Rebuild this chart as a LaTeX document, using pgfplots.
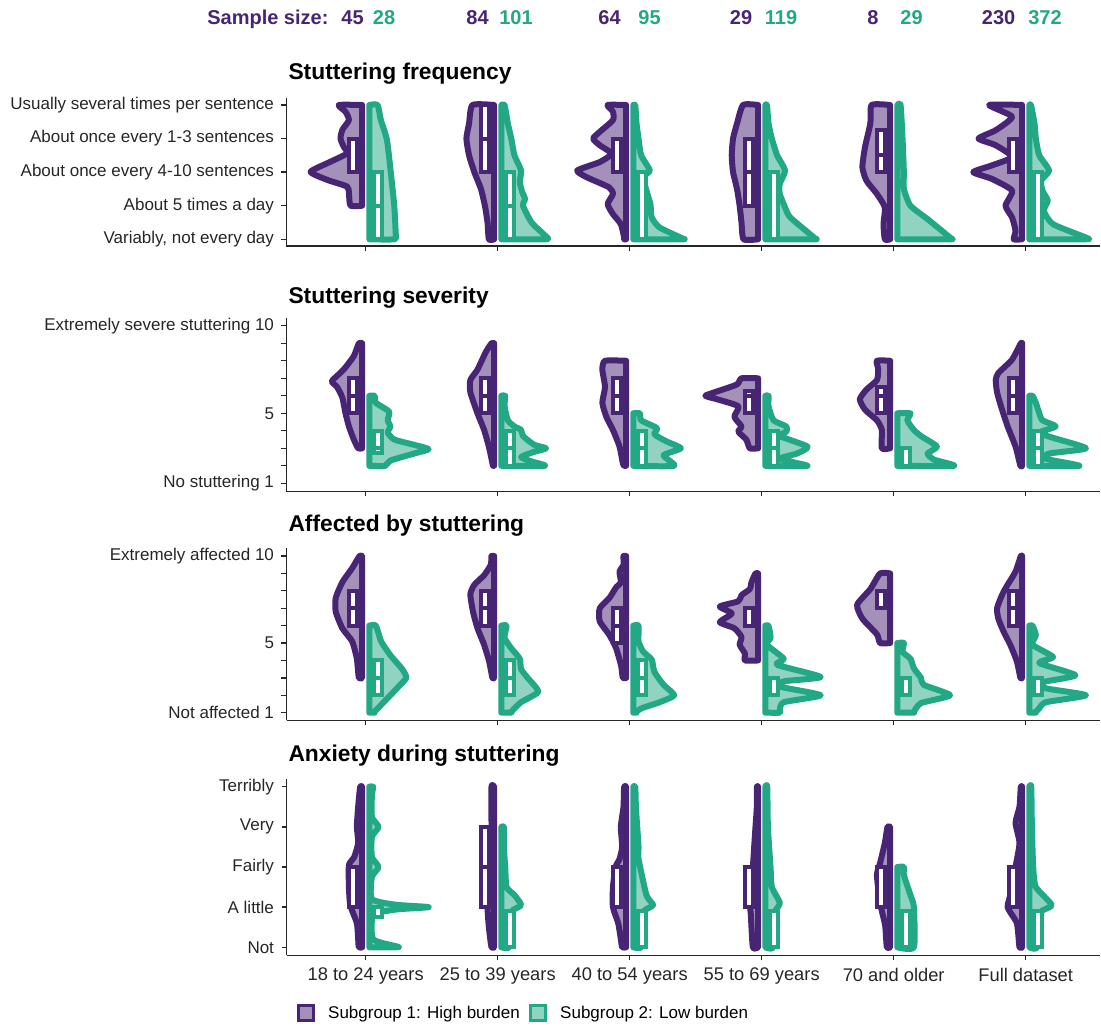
\documentclass[border=0pt]{standalone}
\usepackage{fontspec}
\setmainfont{Liberation Sans}
\usepackage{pgfplots}
\pgfplotsset{compat=1.18}
\definecolor{cP}{RGB}{72,36,117}
\definecolor{cG}{RGB}{34,168,132}
\newcommand\tfont{\fontsize{17}{20}\selectfont}
\newcommand\xfont{\fontsize{18.3}{21}\selectfont}
\newcommand\hfont{\fontsize{22.8}{27}\selectfont\bfseries}
\newcommand\sfont{\fontsize{20}{24}\selectfont\bfseries}
\pgfplotsset{
  panel/.style={scale only axis, width=813.5pt, xmin=-0.6, xmax=5.563,
    axis lines*=left, clip=false, xtick={0,...,5}, xticklabels={,,,,,},
    tick align=outside, major tick length=5pt,
    tick style={line width=1.3pt, color=black!85},
    axis line style={line width=1.3pt, color=black!85},
    ticklabel style={font=\tfont, text=black!85},
    yticklabel style={xshift=-4pt},
    xticklabel style={yshift=-4pt, font=\xfont}},
  vp/.style={forget plot, draw=cP, fill=cP!50, line width=6pt, line join=round, line cap=round, mark=none, smooth, tension=0.35},
  vg/.style={forget plot, draw=cG, fill=cG!50, line width=6pt, line join=round, line cap=round, mark=none, smooth, tension=0.35},
  bp/.style={forget plot, draw=cP, fill=white, line width=4pt, mark=none},
  bg/.style={forget plot, draw=cG, fill=white, line width=4pt, mark=none},
}
% half violins: #1 category, #2 rows "w y\\"
\newcommand\VP[2]{\addplot[vp] table[row sep=\\, x expr={#1-0.027-\thisrow{w}}, y=y]{w y\\#2} -- cycle;}
\newcommand\VG[2]{\addplot[vg] table[row sep=\\, x expr={#1+0.027+\thisrow{w}}, y=y]{w y\\#2} -- cycle;}
% boxes: #1 category, #2 q1, #3 median, #4 q3
\newcommand\BP[4]{\addplot[bp] table[row sep=\\, x expr={#1-0.095+\thisrow{d}}, y=y]{d y\\-0.032 #2\\0.032 #2\\0.032 #4\\-0.032 #4\\} -- cycle;
\addplot[bp] table[row sep=\\, x expr={#1-0.095+\thisrow{d}}, y=y]{d y\\-0.032 #3\\0.032 #3\\};}
\newcommand\BG[4]{\addplot[bg] table[row sep=\\, x expr={#1+0.095+\thisrow{d}}, y=y]{d y\\-0.032 #2\\0.032 #2\\0.032 #4\\-0.032 #4\\} -- cycle;
\addplot[bg] table[row sep=\\, x expr={#1+0.095+\thisrow{d}}, y=y]{d y\\-0.032 #3\\0.032 #3\\};}
\begin{document}
\begin{tikzpicture}
\useasboundingbox (0pt,0pt) rectangle (1101pt,1026pt);
% sample sizes
\node[anchor=base east, font=\sfont, text=cP] at (332pt,1001pt) {Sample size:};
\foreach \x/\n in {352.5/45, 477.5/84, 609.5/64, 741/29, 873/8, 998.6/230}
  \node[anchor=base, font=\sfont, text=cP] at (\x pt,1001pt) {\n};
\foreach \x/\n in {384/28, 516/101, 649.6/95, 781/119, 911.5/29, 1045/372}
  \node[anchor=base, font=\sfont, text=cG] at (\x pt,1001pt) {\n};
% titles
\node[anchor=base west, font=\hfont] at (285pt,946pt) {Stuttering frequency};
\node[anchor=base west, font=\hfont] at (285pt,722pt) {Stuttering severity};
\node[anchor=base west, font=\hfont] at (285pt,494pt) {Affected by stuttering};
\node[anchor=base west, font=\hfont] at (285pt,264pt) {Anxiety during stuttering};

% ---------- Panel 1: frequency ----------
\begin{axis}[panel, at={(286.5pt,780pt)}, anchor=south west, height=147.7pt,
  ymin=0.8, ymax=5.2, ytick={1,...,5},
  yticklabels={{Variably, not every day},{About 5 times a day},{About once every 4-10 sentences},{About once every 1-3 sentences},{Usually several times per sentence}}]
\VP{0}{0 5\\0.177 5\\0.126 4.8\\0.1 4.55\\0.15 4.26\\0.164 4.0\\0.14 3.76\\0.114 3.56\\0.24 3.31\\0.39 3.01\\0.265 2.77\\0.114 2.57\\0.1 2.37\\0.088 2\\0 2\\}
\VG{0}{0 5\\0.063 5\\0.088 4.55\\0.134 3.96\\0.164 2.96\\0.19 1.97\\0.2 1.18\\0.194 1\\0 1\\}
\VP{1}{0 5\\0.164 5\\0.19 4.45\\0.21 4.0\\0.19 3.5\\0.15 3.0\\0.1 2.5\\0.07 2.0\\0.05 1.5\\0.04 1\\0 1\\}
\VG{1}{0 5\\0.025 5\\0.05 4.45\\0.076 4.0\\0.1 3.5\\0.15 3.05\\0.14 2.7\\0.16 2.4\\0.18 2.2\\0.165 2.0\\0.23 1.5\\0.34 1.08\\0.34 1\\0 1\\}
\VP{2}{0 5\\0.14 5\\0.1 4.8\\0.1 4.55\\0.2 4.2\\0.25 4.0\\0.2 3.8\\0.11 3.55\\0.2 3.3\\0.37 3.05\\0.3 2.85\\0.13 2.55\\0.1 2.35\\0.14 2.05\\0.1 1.75\\0.04 1.45\\0.015 1.05\\0.015 1\\0 1\\}
\VG{2}{0 5\\0.015 5\\0.025 4.45\\0.04 4.0\\0.06 3.5\\0.125 3.05\\0.076 2.85\\0.1 2.45\\0.13 2.05\\0.14 1.65\\0.2 1.35\\0.37 1.03\\0.37 1\\0 1\\}
\VP{3}{0 5\\0.114 5\\0.16 4.45\\0.19 4.0\\0.2 3.5\\0.19 3.0\\0.16 2.5\\0.14 2.0\\0.126 1.5\\0.11 1\\0 1\\}
\VG{3}{0 5\\0.013 5\\0.025 4.45\\0.05 4.0\\0.09 3.5\\0.15 3.05\\0.11 2.65\\0.11 2.35\\0.15 1.95\\0.19 1.65\\0.37 1.05\\0.37 1\\0 1\\}
\VP{4}{0 5\\0.14 5\\0.15 4.45\\0.19 3.75\\0.21 3.15\\0.18 2.75\\0.1 2.35\\0.04 1.95\\0.05 1.45\\0.04 1\\0 1\\}
\VG{4}{0 5\\0.025 5\\0.04 4.0\\0.05 3.0\\0.05 2.5\\0.1 2.0\\0.23 1.6\\0.4 1.05\\0.4 1\\0 1\\}
\VP{5}{0 5\\0.25 5\\0.076 4.65\\0.2 4.25\\0.33 4.0\\0.2 3.8\\0.076 3.45\\0.23 3.2\\0.37 3.0\\0.23 2.8\\0.076 2.45\\0.126 2.0\\0.076 1.65\\0.05 1.25\\0.063 1\\0 1\\}
\VG{5}{0 5\\0.013 5\\0.04 4.45\\0.05 4.0\\0.076 3.5\\0.15 3.05\\0.09 2.75\\0.1 2.45\\0.14 2.15\\0.11 1.85\\0.18 1.45\\0.43 1.05\\0.43 1\\0 1\\}
\BP{0}{3}{3}{4}\BG{0}{1}{2}{3}
\BP{1}{3}{4}{5}\BG{1}{1}{2}{3}
\BP{2}{3}{3}{4}\BG{2}{1}{1}{3}
\BP{3}{2}{3}{4}\BG{3}{1}{1}{3}
\BP{4}{3}{3.5}{4.25}\BG{4}{1}{1}{1}
\BP{5}{3}{3}{4}\BG{5}{1}{1}{3}
\end{axis}

% ---------- Panel 2: severity ----------
\begin{axis}[panel, at={(286.5pt,534.8pt)}, anchor=south west, height=173.3pt,
  ymin=0.55, ymax=10.45, ytick={1,...,10},
  yticklabels={No stuttering 1,,,,5,,,,,Extremely severe stuttering 10}]
\VP{0}{0 9\\0.025 9\\0.063 8.27\\0.14 7.5\\0.21 7.0\\0.23 6.8\\0.19 6.5\\0.15 5.9\\0.126 5\\0.1 4.25\\0.063 3.5\\0.03 3\\0 3\\}
\VG{0}{0 6\\0.04 6\\0.05 5.6\\0.15 5.1\\0.14 4.6\\0.16 4.25\\0.14 3.9\\0.19 3.5\\0.34 3.2\\0.45 2.95\\0.34 2.7\\0.16 2.3\\0.12 2\\0 2\\}
\VP{1}{0 9\\0.02 9\\0.063 8.5\\0.126 7.5\\0.18 6.9\\0.18 6.2\\0.126 5\\0.076 4.05\\0.04 3.1\\0.013 2.15\\0.008 2\\0 2\\}
\VG{1}{0 6\\0.03 6\\0.025 5.4\\0.05 4.6\\0.1 4.25\\0.15 4.05\\0.165 3.7\\0.25 3.2\\0.34 3.0\\0.25 2.8\\0.15 2.5\\0.23 2.25\\0.33 2.0\\0 2\\}
\VP{2}{0 8\\0.16 8\\0.18 7.5\\0.16 6.5\\0.18 5.6\\0.15 4.8\\0.1 4.05\\0.05 3.1\\0.025 2.15\\0.015 2\\0 2\\}
\VG{2}{0 5\\0.05 5\\0.06 4.6\\0.18 4.15\\0.16 3.8\\0.25 3.4\\0.36 3.0\\0.23 2.6\\0.31 2.0\\0 2\\}
\VP{3}{0 7\\0.126 7\\0.16 6.65\\0.31 6.25\\0.4 6.0\\0.31 5.8\\0.15 5.4\\0.18 4.8\\0.126 4.25\\0.15 3.95\\0.09 3.5\\0.063 3.0\\0 3\\}
\VG{3}{0 6\\0.025 6\\0.025 5.4\\0.063 4.6\\0.16 4.25\\0.16 3.95\\0.11 3.7\\0.32 3.1\\0.24 2.7\\0.11 2.4\\0.32 2.0\\0 2\\}
\VP{4}{0 8\\0.1 8\\0.09 7.5\\0.1 6.9\\0.18 6.35\\0.23 5.8\\0.19 5.2\\0.1 4.6\\0.063 4.05\\0.063 3.0\\0 3\\}
\VG{4}{0 5\\0.1 5\\0.076 4.6\\0.126 4.05\\0.18 3.7\\0.3 3.1\\0.23 2.7\\0.28 2.35\\0.43 2.0\\0 2\\}
\VP{5}{0 9\\0.01 9\\0.076 8.07\\0.18 7.3\\0.2 6.9\\0.19 6.2\\0.16 5.4\\0.11 4.25\\0.05 3.1\\0.013 2\\0 2\\}
\VG{5}{0 6\\0.025 6\\0.05 5.6\\0.076 5.0\\0.1 4.6\\0.2 4.25\\0.076 3.9\\0.18 3.6\\0.43 3.0\\0.15 2.7\\0.126 2.4\\0.38 2.0\\0 2\\}
\BP{0}{5}{6}{7}\BG{0}{2.75}{3}{4}
\BP{1}{5}{6}{7}\BG{1}{2}{3}{4}
\BP{2}{5}{6}{7}\BG{2}{2}{3}{4}
\BP{3}{5}{6}{6.25}\BG{3}{2}{3}{4}
\BP{4}{5}{6}{6.5}\BG{4}{2}{2}{3}
\BP{5}{5}{6}{7}\BG{5}{2}{3}{4}
\end{axis}

% ---------- Panel 3: affected ----------
\begin{axis}[panel, at={(286.5pt,305.5pt)}, anchor=south west, height=172.3pt,
  ymin=0.55, ymax=10.45, ytick={1,...,10},
  yticklabels={Not affected 1,,,,5,,,,,Extremely affected 10}]
\VP{0}{0 10\\0.02 10\\0.076 9.3\\0.15 8.5\\0.2 7.6\\0.2 6.8\\0.15 5.85\\0.076 5.1\\0.04 4.1\\0.025 3\\0 3\\}
\VG{0}{0 6\\0.05 6\\0.09 5.1\\0.16 4.3\\0.25 3.5\\0.28 3.0\\0.21 2.4\\0.09 1.45\\0.04 1.05\\0.04 1\\0 1\\}
\VP{1}{0 10\\0.02 10\\0.025 9.5\\0.076 8.9\\0.15 8.35\\0.18 7.8\\0.16 6.8\\0.126 5.85\\0.076 4.9\\0.038 3.95\\0.013 3\\0 3\\}
\VG{1}{0 6\\0.04 6\\0.025 5.3\\0.076 4.7\\0.14 4.1\\0.15 3.5\\0.2 3.0\\0.28 2.2\\0.15 1.6\\0.076 1.05\\0.076 1\\0 1\\}
\VP{2}{0 10\\0.02 10\\0.02 9.5\\0.05 9.1\\0.04 8.5\\0.076 8.2\\0.126 7.6\\0.2 7.0\\0.2 6.25\\0.126 5.45\\0.076 4.7\\0.038 3.7\\0.025 3\\0 3\\}
\VG{2}{0 6\\0.04 6\\0.04 5.1\\0.076 4.5\\0.14 4.05\\0.16 3.35\\0.23 2.6\\0.31 2.0\\0.2 1.6\\0.063 1.25\\0.025 1.05\\0.025 1\\0 1\\}
\VP{3}{0 9\\0.02 9\\0.05 8.5\\0.063 8.1\\0.126 7.75\\0.15 7.4\\0.29 7.1\\0.2 6.7\\0.29 6.2\\0.18 5.85\\0.126 5.35\\0.14 4.9\\0.1 4.4\\0.1 4.0\\0 4\\}
\VG{3}{0 6\\0.025 6\\0.04 5.3\\0.013 4.9\\0.14 4.1\\0.09 3.75\\0.42 3.05\\0.14 2.8\\0.11 2.5\\0.42 2.0\\0.14 1.6\\0.11 1.15\\0.11 1\\0 1\\}
\VP{4}{0 9\\0.076 9\\0.15 8.1\\0.25 7.2\\0.21 6.4\\0.1 5.5\\0.076 5\\0 5\\}
\VG{4}{0 5\\0.05 5\\0.04 4.5\\0.1 4.1\\0.126 3.55\\0.18 3.0\\0.2 2.6\\0.4 2.0\\0.18 1.55\\0.126 1.05\\0.126 1\\0 1\\}
\VP{5}{0 10\\0.01 10\\0.05 9.1\\0.11 8.35\\0.15 7.8\\0.19 7.0\\0.18 6.4\\0.14 5.65\\0.09 4.9\\0.04 3.95\\0.013 3\\0 3\\}
\VG{5}{0 6\\0.025 6\\0.05 5.45\\0.025 4.9\\0.18 4.2\\0.076 3.85\\0.35 3.15\\0.1 2.75\\0.126 2.4\\0.43 2.0\\0.126 1.6\\0.076 1.25\\0.05 1.05\\0.05 1\\0 1\\}
\BP{0}{6}{7}{8}\BG{0}{2}{3}{4}
\BP{1}{6}{7}{8}\BG{1}{2}{3}{4}
\BP{2}{5}{6}{7}\BG{2}{2}{3}{4}
\BP{3}{6}{6}{7}\BG{3}{2}{2}{3}
\BP{4}{7}{7}{8}\BG{4}{2}{2}{3}
\BP{5}{6}{7}{8}\BG{5}{2}{2}{3}
\end{axis}

% ---------- Panel 4: anxiety ----------
\begin{axis}[panel, at={(286.5pt,70.7pt)}, anchor=south west, height=176.6pt,
  ymin=0.8, ymax=5.2, ytick={1,...,5},
  yticklabels={Not,A little,Fairly,Very,Terribly},
  xticklabels={18 to 24 years,25 to 39 years,40 to 54 years,55 to 69 years,70 and older,Full dataset},
  legend columns=2,
  legend style={draw=none, fill=none, at={(0,0)}, anchor=west, xshift=10pt, yshift=-57.7pt,
    font=\tfont, inner sep=0pt,
    /tikz/every odd column/.append style={column sep=11pt},
    /tikz/every even column/.append style={column sep=7pt}}]
\VP{0}{0 5\\0.015 5\\0.03 4.5\\0.04 4.0\\0.03 3.6\\0.06 3.25\\0.1 3.05\\0.1 2.5\\0.09 2.05\\0.04 1.6\\0.03 1.2\\0.025 1\\0 1\\}
\VG{0}{0 5\\0.03 5\\0.02 4.8\\0.02 4.25\\0.07 4.0\\0.02 3.75\\0.02 3.25\\0.07 3.0\\0.02 2.75\\0.02 2.2\\0.2 2.06\\0.45 2.0\\0.2 1.94\\0.03 1.8\\0.03 1.2\\0.21 1.02\\0.21 1\\0 1\\}
\VP{1}{0 5\\0.02 5\\0.02 4.0\\0.025 3.0\\0.04 2.5\\0.05 2.0\\0.04 1.5\\0.02 1\\0 1\\}
\VG{1}{0 4\\0.02 4\\0.02 3.5\\0.03 3.0\\0.04 2.5\\0.1 2.3\\0.15 2.05\\0.08 1.9\\0.06 1.5\\0.06 1\\0 1\\}
\VP{2}{0 5\\0.015 5\\0.02 4.5\\0.04 4.0\\0.03 3.5\\0.05 3.2\\0.08 3.0\\0.1 2.5\\0.1 2.0\\0.06 1.6\\0.04 1.2\\0.03 1\\0 1\\}
\VG{2}{0 5\\0.015 5\\0.02 4.5\\0.03 4.0\\0.04 3.5\\0.04 3.2\\0.1 2.3\\0.15 2.05\\0.08 1.9\\0.06 1.5\\0.06 1\\0 1\\}
\VP{3}{0 5\\0.01 5\\0.01 4.5\\0.02 4.0\\0.03 3.5\\0.04 3.0\\0.06 2.5\\0.06 2.0\\0.055 1.8\\0.04 1\\0 1\\}
\VG{3}{0 5\\0.015 5\\0.02 4.0\\0.04 3.0\\0.05 2.5\\0.11 2.1\\0.06 1.8\\0.06 1\\0 1\\}
\VP{4}{0 4\\0.02 4\\0.04 3.6\\0.076 3.1\\0.1 2.8\\0.076 2.1\\0.038 1.55\\0.025 1\\0 1\\}
\VG{4}{0 3\\0.05 3\\0.05 2.8\\0.1 2.3\\0.126 2.0\\0.126 1\\0 1\\}
\VP{5}{0 5\\0.01 5\\0.02 4.5\\0.05 4.1\\0.02 3.6\\0.05 3.0\\0.08 2.4\\0.11 2.0\\0.04 1.6\\0.02 1\\0 1\\}
\VG{5}{0 5\\0.015 5\\0.02 4.0\\0.03 3.0\\0.05 2.5\\0.17 2.05\\0.08 1.85\\0.06 1\\0 1\\}
\BP{0}{2}{3}{3}\BG{0}{1.75}{2}{2}
\BP{1}{2}{3}{4}\BG{1}{1}{1}{1.9}
\BP{2}{2}{3}{3}\BG{2}{1}{1}{1.9}
\BP{3}{2}{3}{3}\BG{3}{1}{1}{1.9}
\BP{4}{2}{3}{3}\BG{4}{1}{1}{1.9}
\BP{5}{2}{3}{3}\BG{5}{1}{1}{1.9}
\addlegendimage{legend image code/.code={\draw[draw=cP, fill=cP!50, line width=3.5pt] (0pt,-7.5pt) rectangle (15pt,7.5pt);}}
\addlegendentry{Subgroup 1: High burden}
\addlegendimage{legend image code/.code={\draw[draw=cG, fill=cG!50, line width=3.5pt] (0pt,-7.5pt) rectangle (15pt,7.5pt);}}
\addlegendentry{Subgroup 2: Low burden}
\end{axis}
\end{tikzpicture}
\end{document}
